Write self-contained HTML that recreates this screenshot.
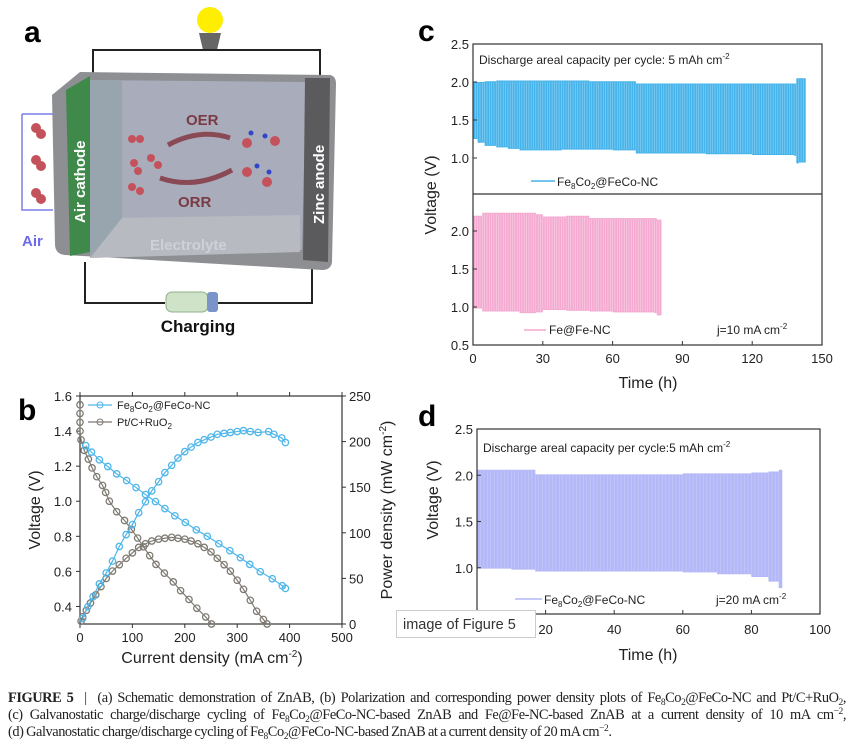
<!DOCTYPE html>
<html><head><meta charset="utf-8"><style>
html,body{margin:0;padding:0;background:#fff;}
svg{display:block;font-family:"Liberation Sans",sans-serif;}
.cl{position:absolute;left:8px;width:838px;font-family:"Liberation Serif",serif;font-size:14.4px;line-height:17px;height:17px;color:#222;text-align:justify;text-align-last:justify;white-space:nowrap;letter-spacing:-0.45px;word-spacing:-0.5px;}
.cl.last{text-align-last:left;}
.cl sub,.cl sup{font-size:9.5px;line-height:0;position:relative;vertical-align:baseline;}
.cl sub{top:3px;} .cl sup{top:-5px;}
</style></head><body>
<div style="position:relative;width:854px;height:750px;overflow:hidden">
<svg id="fig" width="854" height="750" viewBox="0 0 854 750">
<g>
<text x="24" y="42" font-size="30" font-weight="bold">a</text>
<circle cx="210" cy="20" r="13" fill="#ffee00"/>
<path d="M199,33 L221,33 L217,50 L203,50 Z" fill="#666"/>
<path d="M93,80 L93,50 L320,50 L320,80" fill="none" stroke="#222" stroke-width="2"/>
<path d="M85,262 L85,303 L165,303 M218,303 L312,303 L312,268" fill="none" stroke="#222" stroke-width="2"/>
<path d="M52,95 L80,72 L330,75 Q336,76 336,84 L332,262 Q331,270 322,270 L65,255 Q55,254 55,244 Z" fill="#8d8f93"/>
<path d="M90,80 L306,82 L302,250 L90,258 Z" fill="#a9adbb"/>
<path d="M90,80 L122,80 L122,230 L90,258 Z" fill="#98a5ae"/>
<path d="M122,218 L300,215 L300,252 L90,258 Z" fill="#b8bac2"/>
<path d="M66,90 L90,76 L90,252 L70,256 Z" fill="#3f8a4a"/>
<text transform="translate(85,223) rotate(-90)" font-size="15" font-weight="bold" fill="#fff">Air cathode</text>
<path d="M305,78 L330,78 L328,262 L303,260 Z" fill="#5b5b5d"/>
<text transform="translate(324,224) rotate(-90)" font-size="15" font-weight="bold" fill="#fff">Zinc anode</text>
<path d="M22,114 L53,114 M22,114 L22,210 L53,210" fill="none" stroke="#7b7fe6" stroke-width="1.5"/>
<text x="22" y="246" font-size="15" font-weight="bold" fill="#6b6be8">Air</text>
<text x="186" y="125" font-size="15" font-weight="bold" fill="#7a3a44">OER</text>
<text x="178" y="207" font-size="15" font-weight="bold" fill="#7a3a44">ORR</text>
<path d="M230,138 Q200,128 168,145" fill="none" stroke="#8a4a55" stroke-width="5"/>
<path d="M160,178 Q195,190 232,170" fill="none" stroke="#8a4a55" stroke-width="5"/>
<text x="150" y="250" font-size="15" font-weight="bold" fill="#cfd0d8">Electrolyte</text>
<g fill="#c4525c">
<circle cx="132" cy="139" r="4"/><circle cx="140" cy="139" r="4"/>
<circle cx="134" cy="163" r="4"/><circle cx="138" cy="171" r="4"/>
<circle cx="151" cy="158" r="4"/><circle cx="158" cy="165" r="4"/>
<circle cx="132" cy="187" r="4"/><circle cx="140" cy="191" r="4"/>
<circle cx="247" cy="143" r="5"/><circle cx="275" cy="141" r="5"/>
<circle cx="247" cy="172" r="5"/><circle cx="267" cy="182" r="5"/>
<circle cx="36" cy="128" r="5"/><circle cx="41" cy="134" r="5"/>
<circle cx="36" cy="160" r="5"/><circle cx="41" cy="166" r="5"/>
<circle cx="36" cy="193" r="5"/><circle cx="41" cy="199" r="5"/>
</g>
<g fill="#3344cc"><circle cx="251" cy="133" r="2.5"/><circle cx="265" cy="136" r="2.5"/><circle cx="257" cy="166" r="2.5"/><circle cx="269" cy="172" r="2.5"/></g>
<rect x="166" y="292" width="42" height="20" rx="6" fill="#cfe3c8" stroke="#8fb08a"/>
<rect x="207" y="292" width="11" height="20" rx="3" fill="#7a93c8"/>
<text x="198" y="332" text-anchor="middle" font-size="17" font-weight="bold" fill="#111">Charging</text>
</g>
<g id="pb"></g><g id="pc"></g><g id="pd"></g>
<g>
<rect x="396.5" y="610.5" width="139" height="27" fill="#fff" stroke="#ccc"/>
<text x="403" y="629" font-size="14.5" fill="#333">image of Figure 5</text>
</g>
</svg>
<div>
<div class="cl" style="top:690px"><b>FIGURE 5</b> &nbsp;|&nbsp; (a) Schematic demonstration of ZnAB, (b) Polarization and corresponding power density plots of Fe<sub>8</sub>Co<sub>2</sub>@FeCo-NC and Pt/C+RuO<sub>2</sub>,</div>
<div class="cl" style="top:707px">(c) Galvanostatic charge/discharge cycling of Fe<sub>8</sub>Co<sub>2</sub>@FeCo-NC-based ZnAB and Fe@Fe-NC-based ZnAB at a current density of 10 mA cm<sup>−2</sup>,</div>
<div class="cl last" style="top:724px">(d) Galvanostatic charge/discharge cycling of Fe<sub>8</sub>Co<sub>2</sub>@FeCo-NC-based ZnAB at a current density of 20 mA cm<sup>−2</sup>.</div>
</div>
</div>
<script>
// ---- Panel b data ----
const feVx = [11,22,37,53,70,89,107,125,144,162,181,201,222,243,265,286,306,324,344,367,386,392];
const feV  = [1.317,1.28,1.236,1.198,1.156,1.118,1.078,1.038,0.998,0.958,0.917,0.879,0.837,0.80,0.758,0.718,0.678,0.640,0.598,0.558,0.518,0.503];
const fePx = [5,15,25,37,50,62,75,88,100,112,125,137,150,162,175,187,200,212,225,237,250,262,275,287,300,312,325,340,360,370,385,392];
const feP  = [6,19,30,44,56,69,85,98,109,122,134,146,156,166,174,182,189,194,199,202,205,208,209,210,211,212,211,210,211,208,204,199];
const ptVx = [0,0,0,0,2,8,16,23,32,43,49,56,70,85,98,110,121,133,145,161,178,192,208,223,240,251];
const ptV  = [1.55,1.50,1.45,1.40,1.35,1.29,1.24,1.19,1.14,1.09,1.05,1.00,0.94,0.89,0.84,0.79,0.74,0.69,0.64,0.59,0.54,0.49,0.44,0.39,0.34,0.30];
const ptPx = [2,5,12,20,30,40,50,62,75,88,100,112,125,137,150,162,175,187,200,212,225,237,250,262,275,287,300,312,325,337,350,357];
const ptP  = [3,8,15,23,32,41,50,58,65,72,78,84,88,91,93,94,95,94,93,91,88,84,79,72,65,58,48,38,26,14,5,0];
const bXTicks = [0,100,200,300,400,500];
const bYTicks = [0.4,0.6,0.8,1.0,1.2,1.4,1.6];
const bY2Ticks = [0,50,100,150,200,250];
// ---- Panel c data ----
const cBlueT  = [0,2,5,10,15,20,38,50,60,70,80,100,120,138,139,140];
const cBlueHi = [2.00,2.00,2.01,2.02,2.02,2.02,2.02,2.01,2.01,1.98,1.98,1.98,1.98,1.98,2.05,2.05];
const cBlueLo = [1.25,1.20,1.16,1.14,1.12,1.10,1.11,1.11,1.10,1.06,1.06,1.05,1.04,1.03,0.93,0.94];
const cBlueEnd = 143;
const cPinkT  = [0,4,10,20,27,30,40,50,60,70,78,79];
const cPinkHi = [2.20,2.24,2.24,2.24,2.22,2.19,2.20,2.17,2.17,2.17,2.17,2.15];
const cPinkLo = [0.98,0.94,0.94,0.92,0.93,0.96,0.95,0.94,0.93,0.93,0.92,0.89];
const cPinkEnd = 81;
const cXTicks = [0,30,60,90,120,150];
const cYTopTicks = [1.0,1.5,2.0,2.5];
const cYBotTicks = [0.5,1.0,1.5,2.0];
// ---- Panel d data ----
const dT  = [0,10,17,25,40,60,70,80,85,88];
const dHi = [2.06,2.06,2.01,2.01,2.01,2.02,2.02,2.03,2.04,2.06];
const dLo = [0.99,0.98,0.96,0.96,0.96,0.95,0.93,0.90,0.85,0.78];
const dEnd = 89;
const dXTicks = [0,20,40,60,80,100];
const dYTicks = [0.5,1.0,1.5,2.0,2.5];

const NS='http://www.w3.org/2000/svg';
function mk(parent,tag,attrs){const e=document.createElementNS(NS,tag);for(const k in attrs)e.setAttribute(k,attrs[k]);parent.appendChild(e);return e;}
function lin(d0,d1,r0,r1){return v=>r0+(v-d0)*(r1-r0)/(d1-d0);}
function txt(p,x,y,s,size,anchor,extra){const t=mk(p,'text',Object.assign({x:x,y:y,'font-size':size,'text-anchor':anchor||'start',fill:'#222'},extra||{}));t.textContent=s;return t;}
function fmt(v){return v.toFixed(1);}

// ===== Panel b =====
(function(){
const g=document.getElementById('pb');
const X=lin(0,500,80,342), Y=lin(0.3,1.6,624,396), Y2=lin(0,250,624,396);
txt(g,18,420,'b',30,'start',{'font-weight':'bold',fill:'#000'});
mk(g,'rect',{x:80,y:396,width:262,height:228,fill:'none',stroke:'#333','stroke-width':1.2});
bXTicks.forEach(v=>{const t=mk(g,'line',{x1:X(v),x2:X(v),y1:624,y2:628,stroke:'#333'});

mk(g,'line',{x1:X(v),x2:X(v),y1:396,y2:392,stroke:'#333'});
txt(g,X(v),642,String(v),13,'middle');});
bYTicks.forEach(v=>{mk(g,'line',{x1:76,x2:80,y1:Y(v),y2:Y(v),stroke:'#333'});txt(g,72,Y(v)+5,fmt(v),13,'end');});
bY2Ticks.forEach(v=>{mk(g,'line',{x1:342,x2:346,y1:Y2(v),y2:Y2(v),stroke:'#333'});txt(g,349,Y2(v)+5,String(v),13,'start');});
const xl=txt(g,212,663,'Current density (mA cm',16,'middle');const s=mk(xl,'tspan',{dy:-6,'font-size':10});s.textContent='-2';const s2=mk(xl,'tspan',{dy:6});s2.textContent=')';

const yl=txt(g,0,0,'Voltage (V)',16,'middle',{transform:'translate(40,510) rotate(-90)'});

const y2=txt(g,0,0,'Power density (mW cm',16,'middle',{transform:'translate(392,510) rotate(-90)'});const t3=mk(y2,'tspan',{dy:-6,'font-size':10});t3.textContent='-2';const t4=mk(y2,'tspan',{dy:6});t4.textContent=')';

function series(xs,ys,ys2,col,name){
 const pts=xs.map((x,i)=>X(x)+','+ys2(ys[i])).join(' ');
 const pl=mk(g,'polyline',{points:pts,fill:'none',stroke:col,'stroke-width':1.2});
 
 xs.forEach((x,i)=>{const c=mk(g,'circle',{cx:X(x),cy:ys2(ys[i]),r:3.2,fill:'none',stroke:col,'stroke-width':1.3});
 });
}
series(ptVx,ptV,Y,'#7f7b73','pt-voltage');
series(ptPx,ptP,Y2,'#7f7b73','pt-power');
series(feVx,feV,Y,'#4fb6ea','fe8co2-voltage');
series(fePx,feP,Y2,'#4fb6ea','fe8co2-power');
[['#4fb6ea','Fe','8','Co','2','@FeCo-NC',405],['#7f7b73','Pt/C+RuO','2','','','',422]].forEach(l=>{
 const e=mk(g,'line',{x1:88,x2:112,y1:l[6],y2:l[6],stroke:l[0],'stroke-width':1.2});
 
 mk(g,'circle',{cx:100,cy:l[6],r:3,fill:'none',stroke:l[0]});
 const t=txt(g,117,l[6]+4,l[1],11);
 if(l[2]){const a=mk(t,'tspan',{dy:3,'font-size':8});a.textContent=l[2];const b=mk(t,'tspan',{dy:-3});b.textContent=l[3];}
 if(l[4]){const a=mk(t,'tspan',{dy:3,'font-size':8});a.textContent=l[4];const b=mk(t,'tspan',{dy:-3});b.textContent=l[5];}
});
})();

function band(g,X,Y,T,hi,lo,end,col,lineCol,name){
 let top=[],bot=[];
 T.forEach((t,i)=>{const t2=i<T.length-1?T[i+1]:end;top.push(X(t)+','+Y(hi[i]),X(t2)+','+Y(hi[i]));bot.push(X(t)+','+Y(lo[i]),X(t2)+','+Y(lo[i]));});
 const p=mk(g,'polygon',{points:top.concat(bot.reverse()).join(' '),fill:col});
 
 for(let h=1;h<end;h+=1){let k=0;while(k<T.length-1&&T[k+1]<=h)k++;
  mk(g,'line',{x1:X(h),x2:X(h),y1:Y(hi[k])+1,y2:Y(lo[k])-1,stroke:lineCol,'stroke-width':0.6});}
}
function sub(t,base,s1,mid,s2,rest,size){t.textContent=base;const a=mk(t,'tspan',{dy:3,'font-size':size});a.textContent=s1;const b=mk(t,'tspan',{dy:-3});b.textContent=mid;const c=mk(t,'tspan',{dy:3,'font-size':size});c.textContent=s2;const d=mk(t,'tspan',{dy:-3});d.textContent=rest;}
function supT(t,base,s){t.textContent=base;const a=mk(t,'tspan',{dy:-5,'font-size':8});a.textContent=s;}

// ===== Panel c =====
(function(){
const g=document.getElementById('pc');
const X=lin(0,150,473,822), YT=lin(0.5,2.5,196,44), YB=lin(0.5,2.5,345,193);
txt(g,418,41,'c',30,'start',{'font-weight':'bold',fill:'#000'});
band(g,X,YT,cBlueT,cBlueHi,cBlueLo,cBlueEnd,'#46b4ea','#8fd2f4','blue-cycling-band');
band(g,X,YB,cPinkT,cPinkHi,cPinkLo,cPinkEnd,'#f4a9d0','#fbd3e7','pink-cycling-band');
mk(g,'rect',{x:473,y:44,width:349,height:301,fill:'none',stroke:'#333','stroke-width':1.2});
mk(g,'line',{x1:473,x2:822,y1:194,y2:194,stroke:'#333','stroke-width':1.2});
cXTicks.forEach(v=>{mk(g,'line',{x1:X(v),x2:X(v),y1:345,y2:341,stroke:'#333'});txt(g,X(v),363,String(v),13,'middle');});
cYTopTicks.forEach(v=>{mk(g,'line',{x1:473,x2:477,y1:YT(v),y2:YT(v),stroke:'#333'});txt(g,469,YT(v)+5,fmt(v),13,'end');});
cYBotTicks.forEach(v=>{mk(g,'line',{x1:473,x2:477,y1:YB(v),y2:YB(v),stroke:'#333'});txt(g,469,YB(v)+5,fmt(v),13,'end');});
const xl=txt(g,648,388,'Time (h)',16,'middle');
const yl=txt(g,0,0,'Voltage (V)',16,'middle',{transform:'translate(436,195) rotate(-90)'});
const ann=txt(g,479,64,'',12);supT(ann,'Discharge areal capacity per cycle: 5 mAh cm','-2');

const l1=mk(g,'line',{x1:531,x2:555,y1:181,y2:181,stroke:'#46b4ea','stroke-width':1.5});
sub(txt(g,557,186,'',12),'Fe','8','Co','2','@FeCo-NC',8);
const l2=mk(g,'line',{x1:524,x2:546,y1:330,y2:330,stroke:'#f4a9d0','stroke-width':1.5});
txt(g,549,334,'Fe@Fe-NC',12);
supT(txt(g,717,334,'',12),'j=10 mA cm','-2');
})();

// ===== Panel d =====
(function(){
const g=document.getElementById('pd');
const X=lin(0,100,477,820), Y=lin(0.5,2.5,614,429);
txt(g,418,426,'d',30,'start',{'font-weight':'bold',fill:'#000'});
band(g,X,Y,dT,dHi,dLo,dEnd,'#b4b8f7','#c8cbfa','purple-cycling-band');
mk(g,'rect',{x:477,y:429,width:343,height:185,fill:'none',stroke:'#333','stroke-width':1.2});
dXTicks.forEach(v=>{mk(g,'line',{x1:X(v),x2:X(v),y1:614,y2:610,stroke:'#333'});txt(g,X(v),634,String(v),13,'middle');});
dYTicks.forEach(v=>{mk(g,'line',{x1:477,x2:481,y1:Y(v),y2:Y(v),stroke:'#333'});txt(g,473,Y(v)+5,fmt(v),13,'end');});
const xl=txt(g,648,660,'Time (h)',16,'middle');
const yl=txt(g,0,0,'Voltage (V)',16,'middle',{transform:'translate(438,500) rotate(-90)'});
const ann=txt(g,483,452,'',12);supT(ann,'Discharge areal capacity per cycle:5 mAh cm','-2');

const l1=mk(g,'line',{x1:515,x2:542,y1:599,y2:599,stroke:'#b4b8f7','stroke-width':1.5});
sub(txt(g,544,604,'',12),'Fe','8','Co','2','@FeCo-NC',8);
supT(txt(g,716,604,'',12),'j=20 mA cm','-2');
})();
</script>
</body></html>
